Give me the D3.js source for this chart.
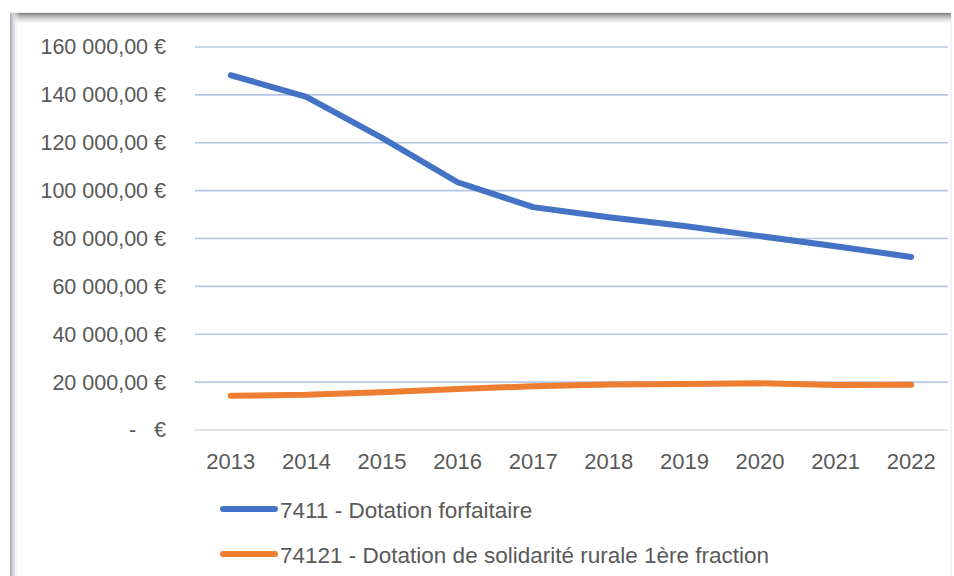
<!DOCTYPE html>
<html>
<head>
<meta charset="utf-8">
<script src="https://cdn.jsdelivr.net/npm/d3@7"></script>
<style>
  html, body { margin: 0; padding: 0; background: #fff; }
  svg text { font-family: "Liberation Sans", Arial, sans-serif; fill: #595959; }
</style>
</head>
<body>
<svg id="chart" width="954" height="576"></svg>
<script>
// data
var years = [2013, 2014, 2015, 2016, 2017, 2018, 2019, 2020, 2021, 2022];
var forfaitaire = [148200, 139200, 122000, 103500, 93100, 88900, 85200, 81000, 76800, 72300];
var solidarite = [14300, 14700, 15800, 17100, 18300, 19000, 19200, 19500, 18800, 18900];
var yTicks = [0, 20000, 40000, 60000, 80000, 100000, 120000, 140000, 160000];
var seriesNames = ["7411 - Dotation forfaitaire", "74121 - Dotation de solidarité rurale 1ère fraction"];
var seriesColors = ["#4472c4", "#ed7d31"];

var svg = d3.select("#chart");

// frame with soft inner shadow, like the pasted Excel chart
var defs = svg.append("defs");
var gTop = defs.append("linearGradient").attr("id", "shTop")
    .attr("x1", 0).attr("y1", 0).attr("x2", 0).attr("y2", 1);
gTop.append("stop").attr("offset", 0).attr("stop-color", "#7f7f7f");
gTop.append("stop").attr("offset", 0.3).attr("stop-color", "#bdbdbd");
gTop.append("stop").attr("offset", 1).attr("stop-color", "#fff").attr("stop-opacity", 0);
var gLeft = defs.append("linearGradient").attr("id", "shLeft")
    .attr("x1", 0).attr("y1", 0).attr("x2", 1).attr("y2", 0);
gLeft.append("stop").attr("offset", 0).attr("stop-color", "#9aa6bd");
gLeft.append("stop").attr("offset", 0.3).attr("stop-color", "#d6d6d6");
gLeft.append("stop").attr("offset", 1).attr("stop-color", "#fff").attr("stop-opacity", 0);

svg.append("rect").attr("x", 11).attr("y", 13).attr("width", 940).attr("height", 570)
    .attr("fill", "#fff").attr("stroke", "#e4e6ea").attr("stroke-width", 1);
svg.append("rect").attr("x", 11).attr("y", 13).attr("width", 940).attr("height", 13)
    .attr("fill", "url(#shTop)");
svg.append("rect").attr("x", 10).attr("y", 13).attr("width", 10).attr("height", 570)
    .attr("fill", "url(#shLeft)");

var x = d3.scaleBand().domain(years).range([193, 949]);
var y = d3.scaleLinear().domain([0, 160000]).range([430, 47]);
var cx = function(d) { return x(d) + x.bandwidth() / 2; };

// gridlines
svg.append("g").selectAll("line")
    .data(yTicks)
    .enter().append("line")
      .attr("x1", 195).attr("x2", 948)
      .attr("y1", function(d) { return y(d); })
      .attr("y2", function(d) { return y(d); })
      .attr("stroke", function(d) { return d === 0 ? "#d9d9d9" : "#b4c7e7"; })
      .attr("stroke-width", 1.6);

// y axis labels
var fmt = function(d) {
  if (d === 0) return "-\u00a0\u00a0\u00a0€";
  return d3.format(",.2f")(d).replace(/,/g, " ").replace(".", ",") + " €";
};
var yAxis = d3.axisLeft(y).tickValues(yTicks).tickFormat(fmt).tickSize(0).tickPadding(0);
var ya = svg.append("g").attr("transform", "translate(166,0)").call(yAxis);
ya.select(".domain").remove();
ya.selectAll("text").attr("font-size", 21.5).attr("font-family", null).attr("fill", null);

// x axis labels
var xAxis = d3.axisBottom(x).tickSize(0).tickPadding(0);
var xa = svg.append("g").attr("transform", "translate(0,453)").call(xAxis);
xa.select(".domain").remove();
xa.selectAll("text").attr("font-size", 22).attr("font-family", null).attr("fill", null);

// lines
var line = d3.line()
    .x(function(d, i) { return cx(years[i]); })
    .y(function(d) { return y(d); });

[forfaitaire, solidarite].forEach(function(s, i) {
  svg.append("path")
      .datum(s)
      .attr("d", line)
      .attr("fill", "none")
      .attr("stroke", seriesColors[i])
      .attr("stroke-width", 6)
      .attr("stroke-linecap", "round")
      .attr("stroke-linejoin", "round");
});

// legend
var leg = svg.append("g").selectAll("g")
    .data(seriesNames)
    .enter().append("g")
      .attr("transform", function(d, i) { return "translate(0," + (509 + i * 45) + ")"; });
leg.append("line")
    .attr("x1", 223).attr("x2", 275)
    .attr("stroke", function(d, i) { return seriesColors[i]; })
    .attr("stroke-width", 6)
    .attr("stroke-linecap", "round");
leg.append("text")
    .attr("x", 280).attr("y", 1)
    .attr("dy", "0.36em")
    .attr("font-size", 22.5)
    .text(function(d) { return d; });
</script>
</body>
</html>
